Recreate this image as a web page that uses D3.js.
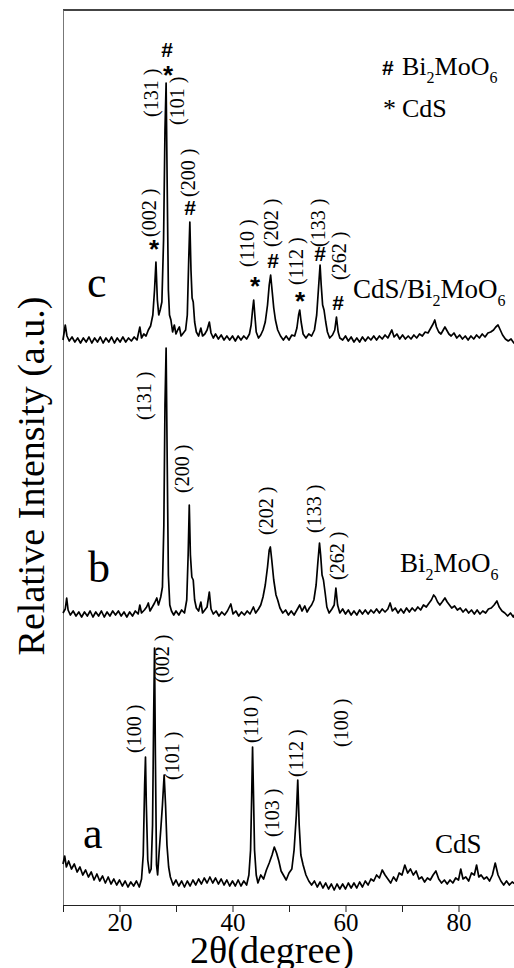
<!DOCTYPE html>
<html lang="en">
<head>
    <meta charset="UTF-8">
    <title>XRD patterns: CdS, Bi2MoO6, CdS/Bi2MoO6</title>
    <script src="https://d3js.org/d3.v7.min.js"></script>
    <style>
        body { margin: 0; background: #fff; }
        svg { display: block; }
        .trace { fill: none; stroke: #000; stroke-width: 1.7px; stroke-linejoin: round; }
    </style>
</head>
<body>
<script>
    // 2theta (degree), relative intensity (a.u.)
    var cdsData = [
        [10.0,41],[10.3,49],[10.6,38],[11.0,44],[11.5,36],[12.0,41],[12.5,33],[13.0,38],[13.5,30],[14.0,35],
        [14.5,28],[15.0,33],[15.5,25],[16.0,31],[16.5,24],[17.0,29],[17.5,22],[18.0,28],[18.5,21],[19.0,26],
        [19.5,20],[20.0,25],[20.5,19],[21.0,24],[21.5,18],[22.0,23],[22.5,19],[23.0,24],[23.5,18],[23.9,26],
        [24.2,50],[24.45,120],[24.6,148],[24.75,100],[25.0,45],[25.3,32],[25.6,36],[25.85,80],[26.05,190],[26.2,257],
        [26.35,150],[26.55,40],[26.75,30],[27.0,52],[27.3,75],[27.6,100],[27.9,130],[28.15,100],[28.4,60],[28.7,38],
        [29.0,28],[29.5,20],[30.0,25],[30.5,19],[31.0,24],[31.5,18],[32.0,24],[32.5,19],[33.0,25],[33.5,20],
        [34.0,26],[34.5,21],[35.0,27],[35.5,22],[36.0,28],[36.5,22],[37.0,27],[37.5,21],[38.0,26],[38.5,20],
        [39.0,25],[39.5,19],[40.0,24],[40.5,19],[41.0,25],[41.5,19],[42.0,24],[42.5,20],[42.9,30],[43.2,55],
        [43.4,110],[43.55,158],[43.7,115],[43.9,55],[44.2,30],[44.5,22],[45.0,30],[45.5,26],[46.0,35],[46.5,42],
        [47.0,50],[47.4,58],[47.8,52],[48.2,44],[48.6,34],[49.0,30],[49.5,25],[50.0,32],[50.5,36],[50.9,55],
        [51.3,90],[51.55,125],[51.8,80],[52.1,50],[52.5,40],[53.0,30],[53.5,24],[54.0,20],[54.5,24],[55.0,18],
        [55.5,23],[56.0,17],[56.5,22],[57.0,16],[57.5,21],[58.0,15],[58.5,21],[59.0,16],[59.5,21],[60.0,16],
        [60.5,22],[61.0,17],[61.5,22],[62.0,17],[62.5,23],[63.0,18],[63.5,24],[64.0,20],[64.5,26],[65.0,24],
        [65.5,30],[66.0,27],[66.5,35],[67.0,30],[67.5,26],[68.0,22],[68.5,28],[69.0,24],[69.5,32],[70.0,30],
        [70.5,40],[71.0,32],[71.5,36],[72.0,30],[72.5,34],[73.0,26],[73.5,28],[74.0,23],[74.5,27],[75.0,25],
        [75.5,30],[76.0,34],[76.5,26],[77.0,22],[77.5,25],[78.0,21],[78.5,25],[79.0,22],[79.5,27],[80.0,25],
        [80.4,36],[80.8,26],[81.3,28],[81.8,24],[82.3,32],[82.8,30],[83.2,40],[83.6,28],[84.0,30],[84.5,26],
        [85.0,28],[85.5,24],[86.0,30],[86.5,42],[87.0,30],[87.5,24],[88.0,20],[88.5,24],[89.0,20],[89.5,23],
        [90.0,21]
    ];

    var bmoData = [
        [10.0,22],[10.4,26],[10.65,37],[10.9,25],[11.3,20],[11.8,24],[12.3,19],[12.8,23],[13.3,18],[13.8,23],
        [14.3,19],[14.8,24],[15.3,18],[15.8,23],[16.3,19],[16.8,24],[17.3,18],[17.8,23],[18.3,19],[18.8,24],
        [19.3,20],[19.8,24],[20.3,19],[20.8,23],[21.3,18],[21.8,23],[22.3,19],[22.8,24],[23.3,21],[23.6,30],
        [23.9,22],[24.4,25],[24.8,28],[25.1,32],[25.4,24],[25.8,28],[26.2,32],[26.6,37],[26.9,30],[27.3,38],
        [27.6,48],[27.85,110],[28.05,230],[28.25,287],[28.45,170],[28.65,60],[28.9,30],[29.2,24],[29.6,20],[30.0,24],
        [30.5,20],[31.0,25],[31.5,22],[31.9,35],[32.15,80],[32.35,130],[32.55,80],[32.8,58],[33.05,55],[33.3,35],
        [33.6,27],[34.0,24],[34.4,33],[34.7,22],[35.1,25],[35.5,28],[35.9,43],[36.2,26],[36.6,21],[37.1,24],
        [37.6,19],[38.1,23],[38.6,20],[39.1,24],[39.7,31],[40.1,21],[40.6,24],[41.1,19],[41.6,23],[42.1,20],
        [42.6,24],[43.1,21],[43.7,28],[44.1,22],[44.6,26],[45.0,30],[45.4,38],[45.8,50],[46.2,68],[46.5,85],
        [46.7,88],[46.95,75],[47.3,55],[47.7,40],[48.0,35],[48.4,27],[48.9,22],[49.4,25],[49.9,20],[50.4,24],
        [50.9,20],[51.4,25],[51.9,30],[52.3,24],[52.8,29],[53.2,23],[53.6,27],[54.0,30],[54.4,35],[54.8,50],
        [55.1,72],[55.4,92],[55.6,80],[55.85,60],[56.1,55],[56.4,42],[56.7,28],[57.1,22],[57.6,26],[58.0,30],
        [58.3,47],[58.6,30],[59.0,22],[59.5,26],[60.0,21],[60.5,25],[61.0,20],[61.5,24],[62.0,20],[62.5,25],
        [63.0,21],[63.5,25],[64.0,21],[64.5,25],[65.0,22],[65.5,26],[66.0,22],[66.5,26],[67.0,23],[67.5,26],
        [67.9,32],[68.3,24],[68.8,27],[69.3,22],[69.8,26],[70.3,22],[70.8,27],[71.3,23],[71.8,27],[72.3,24],
        [72.8,28],[73.3,25],[73.8,30],[74.3,28],[74.8,32],[75.2,35],[75.6,40],[75.9,38],[76.3,33],[76.7,30],
        [77.1,33],[77.6,37],[78.0,33],[78.4,30],[78.8,27],[79.3,29],[79.8,25],[80.3,27],[80.8,23],[81.3,26],
        [81.8,22],[82.3,25],[82.8,21],[83.3,25],[83.8,21],[84.3,24],[84.8,22],[85.3,26],[85.8,27],[86.3,30],
        [86.8,34],[87.2,28],[87.7,24],[88.2,22],[88.7,19],[89.2,22],[89.7,18],[90.0,21]
    ];

    var compositeData = [
        [10.0,20],[10.4,35],[10.7,24],[11.1,19],[11.6,23],[12.1,18],[12.6,22],[13.1,17],[13.6,22],[14.1,18],
        [14.6,23],[15.1,17],[15.6,22],[16.1,18],[16.6,23],[17.1,17],[17.6,22],[18.1,18],[18.6,23],[19.1,17],
        [19.6,22],[20.1,18],[20.6,23],[21.1,18],[21.6,22],[22.1,19],[22.6,23],[23.1,20],[23.6,33],[23.9,22],
        [24.3,26],[24.7,24],[25.1,30],[25.5,34],[25.9,45],[26.2,70],[26.45,98],[26.7,60],[26.95,45],[27.2,50],
        [27.5,58],[27.8,120],[28.05,230],[28.25,277],[28.45,170],[28.65,70],[28.85,45],[29.1,40],[29.4,28],[29.7,35],
        [30.0,26],[30.3,30],[30.6,33],[30.9,24],[31.3,27],[31.7,30],[32.0,45],[32.25,100],[32.45,138],[32.65,90],
        [32.85,62],[33.05,58],[33.3,38],[33.6,28],[34.0,24],[34.4,32],[34.7,24],[35.1,26],[35.5,30],[35.9,38],
        [36.2,27],[36.6,22],[37.0,26],[37.5,21],[38.0,25],[38.5,20],[39.0,24],[39.5,20],[40.0,24],[40.5,19],
        [41.0,24],[41.5,20],[42.0,24],[42.5,21],[43.0,26],[43.3,35],[43.55,50],[43.75,60],[43.95,45],[44.2,28],
        [44.6,22],[45.0,25],[45.4,30],[45.8,38],[46.2,55],[46.5,75],[46.75,85],[47.0,70],[47.3,52],[47.6,40],
        [48.0,30],[48.5,24],[49.0,20],[49.5,24],[50.0,20],[50.5,25],[51.0,24],[51.4,32],[51.7,45],[51.9,50],
        [52.15,38],[52.5,26],[53.0,22],[53.5,26],[54.0,24],[54.5,30],[54.9,45],[55.2,70],[55.5,95],[55.7,75],
        [55.95,55],[56.2,50],[56.5,38],[56.8,28],[57.2,22],[57.7,25],[58.1,30],[58.4,43],[58.7,28],[59.0,22],
        [59.5,20],[60.0,24],[60.5,19],[61.0,23],[61.5,18],[62.0,22],[62.5,18],[63.0,23],[63.5,19],[64.0,23],
        [64.5,20],[65.0,24],[65.5,20],[66.0,24],[66.5,21],[67.0,25],[67.5,22],[68.2,30],[68.6,23],[69.1,26],
        [69.6,21],[70.1,25],[70.6,21],[71.1,24],[71.6,21],[72.1,25],[72.6,22],[73.1,26],[73.6,24],[74.1,28],
        [74.6,27],[75.1,32],[75.5,36],[75.8,40],[76.1,33],[76.5,28],[76.9,26],[77.3,30],[77.6,33],[77.9,30],
        [78.3,26],[78.7,24],[79.2,27],[79.7,22],[80.2,25],[80.7,21],[81.2,24],[81.7,20],[82.2,24],[82.7,21],
        [83.2,25],[83.7,22],[84.2,26],[84.7,23],[85.2,27],[85.7,28],[86.2,30],[86.6,33],[87.0,35],[87.4,30],
        [87.8,25],[88.3,21],[88.8,19],[89.3,21],[89.8,17],[90.0,18]
    ];

    // vertical offsets used to stack the patterns
    var offsets = { a: 0, b: 270, c: 545 };

    // hkl labels: [text, 2theta, intensity level where the text starts]
    var cdsLabels = [
        ["(100 )",23.81,152],["(002 )",28.76,222],["(101 )",30.53,125],["(110 )",44.51,162],
        ["(103 )",48.23,68],["(112 )",52.48,128],["(100 )",60.44,158]
    ];
    var bmoLabels = [
        ["(131 )",25.58,215],["(200 )",32.30,142],["(202 )",47.17,100],["(133 )",55.66,102],["(262 )",59.73,55]
    ];
    var compositeLabels = [
        ["(131 )",26.81,243],["(101 )",31.42,235],["(200 )",33.36,163],["(002 )",26.46,123],["(110 )",43.81,93],
        ["(202 )",48.05,113],["(112 )",52.48,75],["(133 )",56.37,113],["(262 )",60.09,80]
    ];
    // phase marks on the composite: [symbol, 2theta, level]
    var compositeMarks = [
        ["#",28.41,310],["*",28.58,291],["*",26.11,117],["#",32.48,152],["*",43.98,80],
        ["#",47.17,99],["*",51.95,65],["#",55.49,106],["#",58.67,57]
    ];

    var sampleLetters = [["a","a",13.54,57],["b","b",14.42,53],["c","c",14.25,63]];
    var sampleNames = [
        ["a",[["CdS",""]],75.84,52],
        ["b",[["Bi",""],["2","sub"],["MoO",""],["6","sub"]],69.65,63],
        ["c",[["CdS/Bi",""],["2","sub"],["MoO",""],["6","sub"]],61.33,62]
    ];
    var xTicks = [10, 20, 30, 40, 50, 60, 70, 80, 90];

    var SERIF = "'Liberation Serif', 'Times New Roman', Times, 'DejaVu Serif', serif";
    var SANS = "'Liberation Sans', Arial, Helvetica, 'DejaVu Sans', sans-serif";

    var W = 514, H = 968;
    var margin = {top: 10, right: -1, bottom: 63, left: 63};

    var x = d3.scaleLinear().domain([10, 90]).range([margin.left, W - margin.right]);
    var y = d3.scaleLinear().domain([0, 895]).range([H - margin.bottom, margin.top]);

    var svg = d3.select("body").append("svg")
        .attr("width", W)
        .attr("height", H);

    function serif(sel, size) {
        return sel.attr("font-family", SERIF).style("font-family", SERIF)
            .attr("font-size", size).attr("fill", "#000");
    }

    // top frame line
    svg.append("line")
        .attr("x1", margin.left).attr("x2", W)
        .attr("y1", margin.top).attr("y2", margin.top)
        .attr("stroke", "#444").attr("stroke-width", 2);

    // left axis (no ticks)
    svg.append("g")
        .attr("transform", "translate(" + margin.left + ",0)")
        .call(d3.axisLeft(y).tickValues([]).tickSizeOuter(0))
        .select(".domain").attr("stroke", "#777");

    // bottom axis
    var xAxis = svg.append("g")
        .attr("transform", "translate(0," + (H - margin.bottom) + ")")
        .call(d3.axisBottom(x).tickValues(xTicks).tickSizeInner(7).tickSizeOuter(0)
            .tickFormat(function(d) { return d % 20 === 0 ? d : ""; }));
    xAxis.select(".domain").attr("stroke", "#222");
    xAxis.selectAll(".tick line").attr("stroke", "#222");
    serif(xAxis.selectAll(".tick text"), 25).attr("y", 8);

    // traces
    function trace(off) {
        return d3.line()
            .x(function(d) { return x(d[0]); })
            .y(function(d) { return y(d[1] + off); });
    }
    [[cdsData, offsets.a], [bmoData, offsets.b], [compositeData, offsets.c]].forEach(function(s) {
        svg.append("path")
            .attr("class", "trace")
            .attr("d", trace(s[1])(s[0]));
    });

    // hkl labels, rotated
    function addLabels(list, off) {
        serif(svg.append("g").selectAll("text")
            .data(list)
            .enter().append("text"), 20)
            .attr("transform", function(d) {
                return "translate(" + x(d[1]) + "," + y(d[2] + off) + ") rotate(-90)";
            })
            .text(function(d) { return d[0]; });
    }
    addLabels(cdsLabels, offsets.a);
    addLabels(bmoLabels, offsets.b);
    addLabels(compositeLabels, offsets.c);

    // # and * marks, centred on their point
    svg.append("g").selectAll("text")
        .data(compositeMarks)
        .enter().append("text")
        .style("font-family", SANS)
        .style("font-weight", "bold")
        .style("font-size", function(d) { return d[0] === "#" ? "21px" : "26px"; })
        .attr("text-anchor", "middle")
        .attr("x", function(d) { return x(d[1]); })
        .attr("y", function(d) { return y(d[2] + offsets.c) + (d[0] === "#" ? 7 : 15); })
        .text(function(d) { return d[0]; });

    // sample letters
    serif(svg.append("g").selectAll("text")
        .data(sampleLetters)
        .enter().append("text"), 44)
        .attr("x", function(d) { return x(d[2]); })
        .attr("y", function(d) { return y(d[3] + offsets[d[0]]); })
        .text(function(d) { return d[1]; });

    // sample names, with subscripts
    sampleNames.forEach(function(d) {
        var t = serif(svg.append("text"), 27)
            .attr("x", x(d[2]))
            .attr("y", y(d[3] + offsets[d[0]]));
        var prevSub = false;
        d[1].forEach(function(p) {
            var ts = t.append("tspan").text(p[0]);
            if (p[1] === "sub") {
                ts.attr("font-size", 16).attr("dy", 8);
                prevSub = true;
            } else if (prevSub) {
                ts.attr("dy", -8);
                prevSub = false;
            }
        });
    });

    // legend
    var legend = svg.append("g");
    legend.append("text").style("font-family", SANS).style("font-weight", "bold").style("font-size", "21px")
        .attr("x", 382).attr("y", 75).text("#");
    var l1 = serif(legend.append("text"), 26).attr("x", 402).attr("y", 75);
    l1.append("tspan").text("Bi");
    l1.append("tspan").attr("font-size", 16).attr("dy", 8).text("2");
    l1.append("tspan").attr("dy", -8).text("MoO");
    l1.append("tspan").attr("font-size", 16).attr("dy", 8).text("6");
    serif(legend.append("text"), 26).attr("x", 383).attr("y", 117).text("*");
    serif(legend.append("text"), 26).attr("x", 402).attr("y", 117).text("CdS");

    // axis titles
    serif(svg.append("text"), 38)
        .attr("text-anchor", "middle")
        .attr("x", 272).attr("y", 963)
        .text("2θ(degree)");

    serif(svg.append("text"), 38)
        .attr("text-anchor", "middle")
        .attr("transform", "translate(44,476) rotate(-90)")
        .text("Relative Intensity (a.u.)");
</script>
</body>
</html>
